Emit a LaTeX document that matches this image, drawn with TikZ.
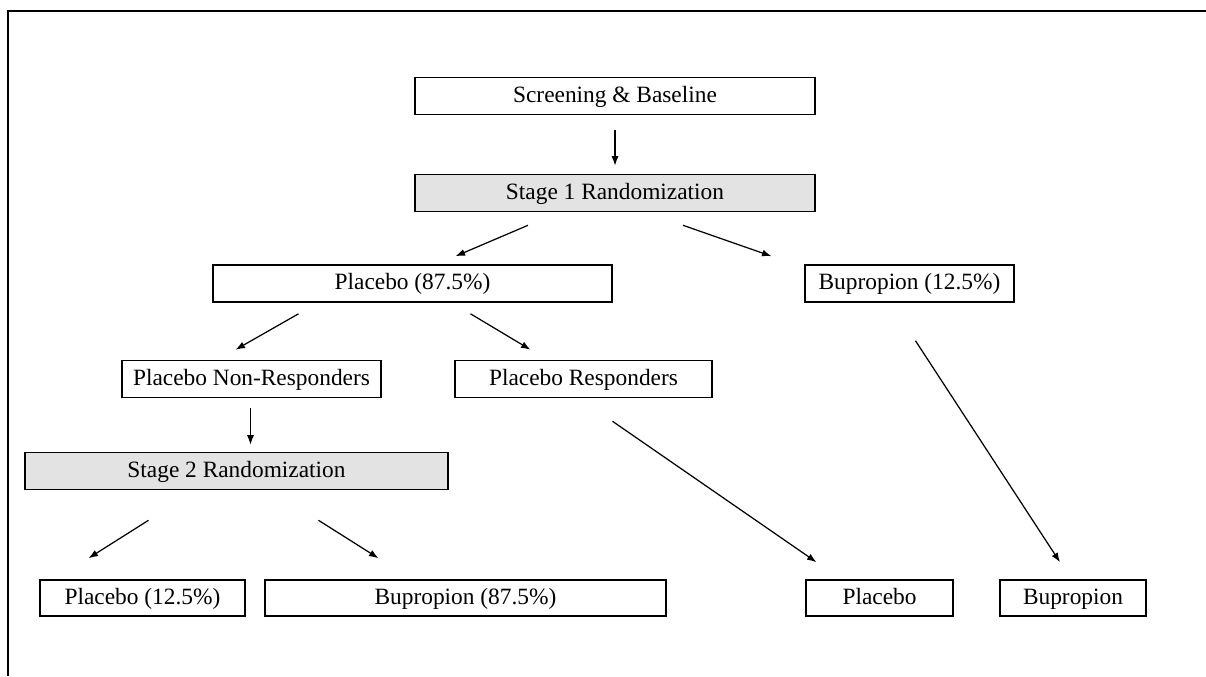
\documentclass[tikz,border=0pt]{standalone}
\usepackage{fontspec}
\setmainfont{Liberation Serif}
\usetikzlibrary{calc,arrows.meta}

\begin{document}
\begin{tikzpicture}[x=0.02cm,y=-0.02cm,
    box/.style={draw,line width=0.9pt,minimum height=0.74cm,inner sep=2pt,
      text height=1.9ex,text depth=0.3ex,font=\fontsize{13.3}{15}\selectfont},
    randbox/.style={box,fill=black!11},
    arr/.style={line width=0.7pt,-{Latex[length=1.9mm,width=1.4mm]}}]
      \useasboundingbox (0,0) rectangle (1206,676) ;
      \draw[line width=0.9pt] (8,676) -- (8,11) -- (1206,11) ;
      % stage 1
      \node[box,minimum width=8cm] (scr) at (615,96) {Screening \& Baseline} ;
      \node[randbox,minimum width=8cm] (rand1) at (615,193) {Stage 1 Randomization} ;
      \node[box,minimum width=7.98cm] (plac87) at (412.5,283.5) {Placebo (87.5\%)} ;
      \node[box,minimum width=4.18cm] (bup12) at (909.5,283.5) {Bupropion (12.5\%)} ;
      \node[box,minimum width=5.18cm] (nonresp) at (251.5,379) {Placebo Non-Responders} ;
      \node[box,minimum width=5.14cm] (resp) at (583.5,379) {Placebo Responders} ;
      % stage 2
      \node[randbox,minimum width=8.46cm] (rand2) at (236.5,471) {Stage 2 Randomization} ;
      \node[box,minimum width=4.1cm,minimum height=0.72cm] (plac12) at (142.5,598) {Placebo (12.5\%)} ;
      \node[box,minimum width=8.02cm,minimum height=0.72cm] (bup87) at (465.5,598) {Bupropion (87.5\%)} ;
      \node[box,minimum width=2.94cm,minimum height=0.72cm] (plac) at (879.5,598) {Placebo} ;
      \node[box,minimum width=2.92cm,minimum height=0.72cm] (bup) at (1073,598) {Bupropion} ;
      \draw[arr] ($(scr.south)+(0,15)$) -- ($(rand1.north)+(0,-8)$) ;
      \draw[arr] ($(rand1.south)+(-87,13)$) -- ($(plac87.north)+(43,-8)$) ;
      \draw[arr] ($(rand1.south)+(68,13)$) -- ($(bup12.north)+(-138,-8)$) ;
      \draw[arr] ($(plac87.south)+(-114,11)$) -- ($(nonresp.north)+(-16,-10)$) ;
      \draw[arr] ($(plac87.south)+(58,11)$) -- ($(resp.north)+(-53,-10)$) ;
      \draw[arr] ($(bup12.south)+(6,38)$) -- ($(bup.north)+(-13,-17)$) ;
      \draw[arr] ($(nonresp.south)+(-1,10)$) -- ($(rand2.north)+(14,-7)$) ;
      \draw[arr] ($(resp.south)+(29,23)$) -- ($(plac.north)+(-63,-17)$) ;
      \draw[arr] ($(rand2.south)+(-88,30)$) -- ($(plac12.north)+(-54,-21)$) ;
      \draw[arr] ($(rand2.south)+(82,30)$) -- ($(bup87.north)+(-87,-21)$) ;
    \end{tikzpicture}
\end{document}
